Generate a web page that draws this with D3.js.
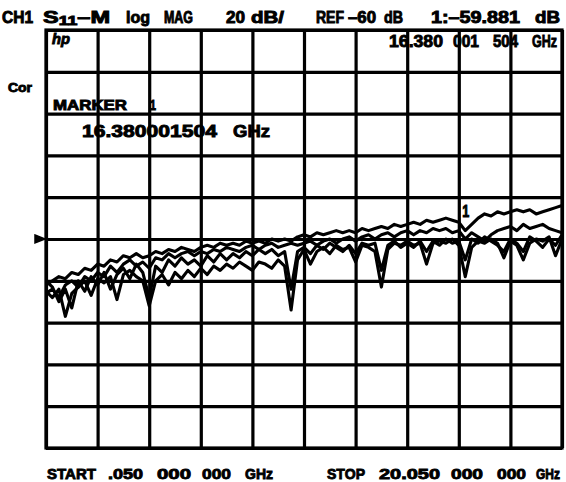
<!DOCTYPE html>
<html><head><meta charset="utf-8">
<script src="https://cdn.jsdelivr.net/npm/d3@7"></script>
<style>
html,body{margin:0;padding:0;background:#fff;}
svg text{font-family:"Liberation Sans",Arial,sans-serif;font-weight:bold;fill:#000;stroke:#000;stroke-width:0.9px;}
</style></head>
<body>
<svg id="c" width="566" height="482"></svg>
<script>
// ---- data ----
const freqGHz = [0.05,0.30,0.55,0.80,1.05,1.30,1.55,1.80,2.05,2.30,2.55,2.80,3.05,3.30,3.55,3.80,4.05,4.30,4.55,4.80,
5.05,5.30,5.55,5.80,6.05,6.30,6.55,6.80,7.05,7.30,7.55,7.80,8.05,8.30,8.55,8.80,9.05,9.30,9.55,9.80,
10.05,10.30,10.55,10.80,11.05,11.30,11.55,11.80,12.05,12.30,12.55,12.80,13.05,13.30,13.55,13.80,14.05,14.30,14.55,14.80,
15.05,15.30,15.55,15.80,16.05,16.30,16.55,16.80,17.05,17.30,17.55,17.80,18.05,18.30,18.55,18.80,19.05,19.30,19.55,19.80,20.05];
const traceA = [-82,-80,-78,-79,-76,-77,-74,-75,-72,-73,-70,-71,-68,-69,-67,-69,-68,-66,-67,-65,
-66,-64,-65,-66,-64,-63,-64,-62,-63,-62,-63,-61,-62,-61,-62,-60,-61,-60,-61,-59,
-58,-59,-57,-58,-57,-56,-57,-56,-57,-55,-56,-55,-54,-55,-53,-54,-53,-52,-53,-51,
-52,-51,-50,-51,-52,-56,-53,-50,-48,-49,-47,-48,-47,-46,-47,-46,-48,-47,-46,-45,-44];
const traceB = [-86,-84,-88,-82,-80,-83,-78,-80,-76,-78,-73,-76,-72,-70,-73,-71,-74,-69,-70,-67,
-69,-67,-66,-68,-66,-67,-65,-66,-64,-65,-66,-64,-63,-65,-63,-62,-64,-63,-62,-63,
-62,-61,-63,-61,-60,-62,-60,-59,-61,-59,-58,-60,-58,-57,-59,-57,-56,-58,-56,-57,
-55,-56,-55,-57,-56,-60,-57,-59,-61,-58,-56,-55,-54,-56,-53,-55,-54,-53,-55,-56,-57];
const traceC = [-85,-88,-84,-97,-86,-83,-80,-87,-79,-81,-78,-89,-77,-75,-78,-80,-92,-80,-77,-82,
-76,-79,-75,-78,-74,-77,-73,-75,-72,-74,-71,-73,-75,-71,-72,-74,-70,-73,-94,-70,
-65,-72,-66,-64,-67,-63,-65,-64,-71,-63,-64,-66,-83,-65,-62,-63,-61,-63,-62,-72,
-62,-61,-62,-60,-63,-78,-64,-61,-62,-60,-62,-69,-61,-63,-70,-62,-60,-61,-59,-68,-60];
const traceD = [-80,-83,-90,-84,-93,-80,-85,-78,-82,-76,-84,-77,-74,-79,-72,-76,-88,-73,-76,-70,
-73,-69,-72,-70,-73,-68,-71,-67,-70,-67,-69,-66,-68,-65,-67,-65,-68,-66,-84,-66,
-64,-67,-63,-65,-62,-64,-66,-63,-67,-62,-63,-62,-75,-63,-61,-64,-62,-64,-61,-66,
-61,-63,-60,-62,-61,-70,-60,-62,-59,-61,-63,-66,-60,-62,-66,-59,-61,-64,-60,-63,-58];
const traces = [traceA, traceB, traceC, traceD];
const freqTicks = [0.05,2.05,4.05,6.05,8.05,10.05,12.05,14.05,16.05,18.05,20.05];
const dbTicks = [-160,-140,-120,-100,-80,-60,-40,-20,0,20,40];
const refDb = -60;
const markerFreq = 16.380001504;
const markerDb = -59.881;

// ---- chart ----
const svg = d3.select("#c");
const L = 46, R = 562, T = 30, B = 448;
const x = d3.scaleLinear().domain([0.05, 20.05]).range([L, R]);
const y = d3.scaleLinear().domain([-160, 40]).range([B, T]);

function w(s, x0, x1, yb, size, extra) {
  const e = svg.append("text").attr("x", x0).attr("y", yb).attr("font-size", size)
    .attr("textLength", x1 - x0).attr("lengthAdjust", "spacingAndGlyphs").text(s);
  if (extra) extra(e);
  return e;
}

// texts inside the grid (grid is drawn over them, as on the screen)
w("hp", 52, 70, 44, 15, e => e.attr("font-style", "italic"));
w("16.380", 389, 443, 47, 17);
w("001", 453, 479, 47, 17);
w("504", 493, 518, 47, 17);
w("GHz", 532, 557, 47, 17);
w("MARKER", 53, 127, 110, 14);
w("1", 150, 156, 110, 14);
w("16.380001504", 82, 217, 137, 17);
w("GHz", 233, 270, 137, 17);

// grid via axes
const gx = svg.append("g").attr("transform", `translate(0,${B})`)
  .call(d3.axisBottom(x).tickValues(freqTicks).tickSize(-(B - T)).tickFormat(""));
const gy = svg.append("g").attr("transform", `translate(${L},0)`)
  .call(d3.axisLeft(y).tickValues(dbTicks).tickSize(-(R - L)).tickFormat(""));
[gx, gy].forEach(g => {
  g.select(".domain").remove();
  g.selectAll(".tick line").attr("stroke", "#000").attr("stroke-width", 3.2);
});
svg.append("rect").attr("x", L).attr("y", T).attr("width", R - L).attr("height", B - T)
  .attr("fill", "none").attr("stroke", "#000").attr("stroke-width", 3.2);

// traces
const line = d3.line().x((d, i) => x(freqGHz[i])).y(d => y(d));
svg.append("g").selectAll("path").data(traces).join("path")
  .attr("d", line).attr("fill", "none").attr("stroke", "#000")
  .attr("stroke-width", 3.1).attr("stroke-linejoin", "round");

// reference arrow
const ry = y(refDb);
svg.append("path").attr("d", `M${L - 11},${ry - 4}L${L - 1},${ry}L${L - 11},${ry + 4}Z`)
  .attr("fill", "#000").attr("stroke", "#000").attr("stroke-width", 1.5);

// marker label
w("1", x(markerFreq) - 5, x(markerFreq) + 2, y(markerDb) - 22, 16);

// title
w("CH1", 2, 33, 23, 16);
const s11 = svg.append("text").attr("x", 43).attr("y", 23).attr("font-size", 16)
  .attr("textLength", 67).attr("lengthAdjust", "spacingAndGlyphs");
s11.append("tspan").text("S");
s11.append("tspan").attr("font-size", 12).attr("dy", 2).text("11");
s11.append("tspan").attr("dy", -2).text("\u2013M");
w("log", 126, 150, 23, 16);
w("MAG", 164, 193, 23, 16);
w("20", 226, 245, 23, 16);
w("dB/", 251, 284, 23, 16);
w("REF", 316, 344, 23, 16);
w("\u201360", 348, 376, 23, 16);
w("dB", 384, 403, 23, 16);
w("1:\u201359.881", 431, 520, 23, 16);
w("dB", 535, 560, 23, 16);

// side label
w("Cor", 8, 32, 92, 12.5);

// bottom
w("START", 47, 96, 479, 15.5);
w(".050", 108, 143, 479, 15.5);
w("000", 157, 191, 479, 15.5);
w("000", 202, 231, 479, 15.5);
w("GHz", 245, 273, 479, 15.5);
w("STOP", 327, 365, 479, 15.5);
w("20.050", 379, 440, 479, 15.5);
w("000", 451, 483, 479, 15.5);
w("000", 497, 526, 479, 15.5);
w("GHz", 536, 560, 479, 15.5);
</script>
</body></html>
